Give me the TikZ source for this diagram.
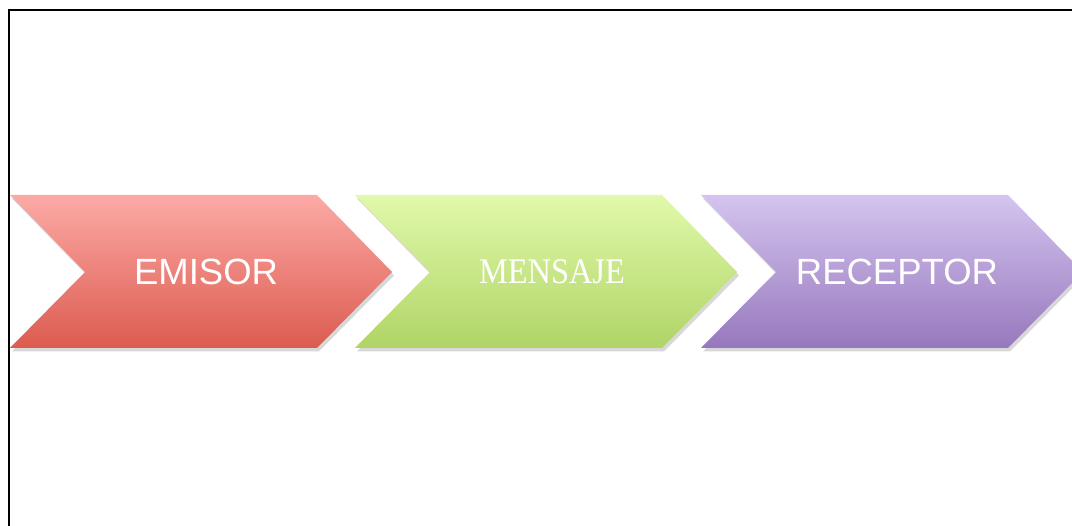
\documentclass[tikz,border=0pt]{standalone}
\usepackage{fontspec}
\setmainfont{Liberation Sans}
\newfontfamily\serifmsg[FakeStretch=0.9]{Liberation Serif}
\usetikzlibrary{shadows}
\definecolor{redtop}{HTML}{FCAAA6}
\definecolor{redbot}{HTML}{DC5B4F}
\definecolor{grntop}{HTML}{E1F9AA}
\definecolor{grnbot}{HTML}{B0D466}
\definecolor{purtop}{HTML}{D4C4EF}
\definecolor{purbot}{HTML}{9778BD}
\tikzset{
  chev/.style={drop shadow={opacity=0.3,shadow xshift=2pt,shadow yshift=-3.5pt}},
  lbl/.style={text=white,inner sep=0pt,anchor=center}
}
\begin{document}
\begin{tikzpicture}[x=1pt,y=-1pt]
\useasboundingbox (0,0) rectangle (1072,526);
\clip (0,0) rectangle (1072,526);
\fill[white] (0,0) rectangle (1072,526);
\draw[line width=2pt] (9,10) rectangle (1090,560);
% chevrons
\path[chev,top color=redtop,bottom color=redbot] (10,195) -- (317,195) -- (392,272) -- (317,348) -- (10,348) -- (85,272) -- cycle;
\path[chev,top color=grntop,bottom color=grnbot] (355,195) -- (662,195) -- (737,272) -- (662,348) -- (355,348) -- (430,272) -- cycle;
\path[chev,top color=purtop,bottom color=purbot] (701,195) -- (1008,195) -- (1083,272) -- (1008,348) -- (701,348) -- (776,272) -- cycle;
\node[lbl,font=\fontsize{36.5}{40}\selectfont] (emisor) at (206,272) {EMISOR};
\node[lbl,font=\serifmsg\fontsize{36}{40}\selectfont] (mensaje) at (552,272) {MENSAJE};
\node[lbl,font=\fontsize{36.5}{40}\selectfont] (receptor) at (897,272) {RECEPTOR};
\end{tikzpicture}
\end{document}
